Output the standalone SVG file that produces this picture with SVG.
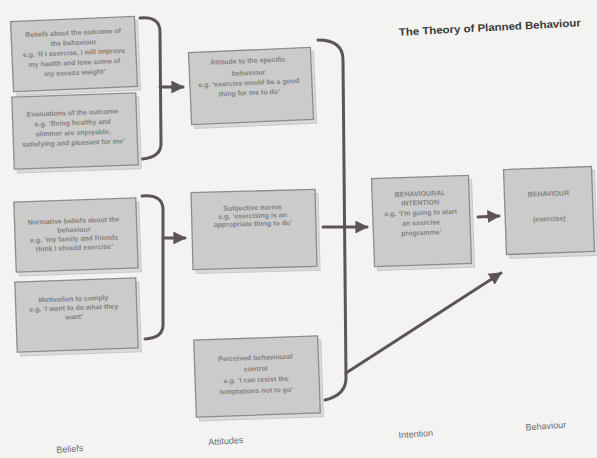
<svg xmlns="http://www.w3.org/2000/svg" width="597" height="458" viewBox="0 0 597 458">
<defs>
<marker id="ah" viewBox="0 0 10 10" refX="9" refY="5" markerWidth="4.3" markerHeight="4.3" orient="auto" markerUnits="strokeWidth">
<path d="M0,0 L10,5 L0,10 Z" fill="#5d5555"/>
</marker>
<style>
.sh{fill:#dadada;stroke:#c2c2c2;stroke-width:0.8}
.bx{fill:#cbcbca;stroke:#8c8c8c;stroke-width:1.3}
.t{font-family:"Liberation Sans",Arial,sans-serif;font-size:7px;font-weight:bold;fill:#838383;text-anchor:middle}
.lab{font-family:"Liberation Sans",Arial,sans-serif;font-size:9px;fill:#6e6e6e;text-anchor:middle}
.c{fill:none;stroke:#5d5555;stroke-width:3;stroke-linecap:round}
</style>
</defs>
<rect width="597" height="458" fill="#f3f3f1"/>
<text x="490" y="31" transform="rotate(-3 490 31)" font-family="Liberation Sans,Arial,sans-serif" font-size="10.5" font-weight="bold" fill="#3a3a3a" text-anchor="middle" textLength="182" lengthAdjust="spacingAndGlyphs">The Theory of Planned Behaviour</text>

<g id="connectors">
<path class="c" d="M140,18 Q160,16 160,32 L161,144 Q161,157 142,159"/>
<path class="c" d="M160,87 L183,87" marker-end="url(#ah)"/>
<path class="c" d="M142,196 Q163,194 163,210 L163,325 Q163,338 145,339"/>
<path class="c" d="M163,238 L185,238" marker-end="url(#ah)"/>
<path class="c" d="M318,40 Q343,40 343,60 L346,378 Q346,395 325,400"/>
<path class="c" d="M323,227 L367,227" marker-end="url(#ah)"/>
<path class="c" d="M346,373 L501,273" marker-end="url(#ah)"/>
<path class="c" d="M478,217 L499,216" marker-end="url(#ah)"/>
</g>

<g id="n1" transform="rotate(-2.5 74 54)">
<rect class="sh" x="15" y="23" width="124" height="70"/>
<rect class="bx" x="12" y="19" width="124" height="70"/>
<text class="t" x="74" y="35">Beliefs about the outcome of</text>
<text class="t" x="74" y="45">the behaviour</text>
<text class="t" x="74" y="55">e.g. ‘If I exercise, I will improve</text>
<text class="t" x="74" y="65">my health and lose some of</text>
<text class="t" x="74" y="75">my excess weight’</text>
</g>

<g id="n2" transform="rotate(-2 75 131)">
<rect class="sh" x="16" y="99" width="124" height="72"/>
<rect class="bx" x="13" y="95" width="124" height="72"/>
<text class="t" x="73" y="115">Evaluations of the outcome</text>
<text class="t" x="73" y="125">e.g. ‘Being healthy and</text>
<text class="t" x="73" y="135">slimmer are enjoyable,</text>
<text class="t" x="73" y="145">satisfying and pleasant for me’</text>
</g>

<g id="n3" transform="rotate(-2 76 235)">
<rect class="sh" x="18" y="204" width="122" height="70"/>
<rect class="bx" x="15" y="200" width="122" height="70"/>
<text class="t" x="74" y="223">Normative beliefs about the</text>
<text class="t" x="74" y="232">behaviour</text>
<text class="t" x="74" y="241">e.g. ‘my family and friends</text>
<text class="t" x="74" y="250">think I should exercise’</text>
</g>

<g id="n4" transform="rotate(-2 76 315)">
<rect class="sh" x="19" y="284" width="121" height="70"/>
<rect class="bx" x="16" y="280" width="121" height="70"/>
<text class="t" x="74" y="301">Motivation to comply</text>
<text class="t" x="74" y="310">e.g. ‘I want to do what they</text>
<text class="t" x="74" y="319">want’</text>
</g>

<g id="n5" transform="rotate(-2.5 251 86)">
<rect class="sh" x="193" y="54" width="122" height="72"/>
<rect class="bx" x="190" y="50" width="122" height="72"/>
<text class="t" x="249" y="63">Attitude to the specific</text>
<text class="t" x="249" y="75">behaviour</text>
<text class="t" x="249" y="85">e.g. ‘exercise would be a good</text>
<text class="t" x="249" y="95">thing for me to do’</text>
</g>

<g id="n6" transform="rotate(-1.5 254 229)">
<rect class="sh" x="195" y="195" width="124" height="77"/>
<rect class="bx" x="192" y="191" width="124" height="77"/>
<text class="t" x="253" y="210">Subjective norms</text>
<text class="t" x="253" y="218">e.g. ‘exercising is an</text>
<text class="t" x="253" y="226">appropriate thing to do’</text>
</g>

<g id="n7" transform="rotate(-2 257 376)">
<rect class="sh" x="198" y="342" width="124" height="77"/>
<rect class="bx" x="195" y="338" width="124" height="77"/>
<text class="t" x="256" y="360">Perceived behavioural</text>
<text class="t" x="256" y="371">control</text>
<text class="t" x="256" y="382">e.g. ‘I can resist the</text>
<text class="t" x="256" y="393">temptations not to go’</text>
</g>

<g id="n8" transform="rotate(-2 421 221)">
<rect class="sh" x="376" y="181" width="97" height="88"/>
<rect class="bx" x="373" y="177" width="97" height="88"/>
<text class="t" x="421" y="196">BEHAVIOURAL</text>
<text class="t" x="421" y="205">INTENTION</text>
<text class="t" x="421" y="215">e.g. ‘I’m going to start</text>
<text class="t" x="421" y="225">an exercise</text>
<text class="t" x="421" y="235">programme’</text>
</g>

<g id="n9" transform="rotate(-2 550 211)">
<rect class="sh" x="508" y="172" width="88" height="85"/>
<rect class="bx" x="505" y="168" width="88" height="85"/>
<text class="t" x="549" y="196">BEHAVIOUR</text>
<text class="t" x="549" y="221">(exercise)</text>
</g>

<text class="lab" x="70" y="452" transform="rotate(-4 70 452)">Beliefs</text>
<text class="lab" x="226" y="444" transform="rotate(-4 226 444)">Attitudes</text>
<text class="lab" x="416" y="437" transform="rotate(-4 416 437)">Intention</text>
<text class="lab" x="546" y="429" transform="rotate(-4 546 429)">Behaviour</text>
</svg>
